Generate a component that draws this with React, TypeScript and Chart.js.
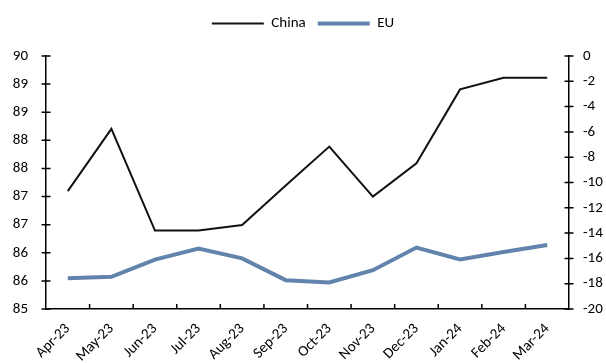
import { useEffect, useRef } from "react";
import { Chart, registerables } from "chart.js";

Chart.register(...registerables);

// Monthly series, Apr-23 to Mar-24
const months = [
  "Apr-23", "May-23", "Jun-23", "Jul-23", "Aug-23", "Sep-23",
  "Oct-23", "Nov-23", "Dec-23", "Jan-24", "Feb-24", "Mar-24",
];

// China, left axis
const china = [87.33, 88.56, 86.55, 86.55, 86.66, 87.44, 88.21, 87.22, 87.88, 89.34, 89.57, 89.57];

// EU, right axis
const eu = [-17.56, -17.45, -16.09, -15.22, -16.0, -17.72, -17.9, -16.93, -15.14, -16.09, -15.49, -14.94];

// Left axis runs 85..90 split into nine equal intervals
const leftMin = 85;
const leftMax = 90;
const leftIntervals = 9;

// Right axis runs -20..0 in steps of 2
const rightMin = -20;
const rightMax = 0;
const rightStep = 2;

const FONT = "Carlito, Lato, 'Liberation Sans', sans-serif";
const FONT_SIZE = 15;
const EU_COLOR = "#6283ac";

// Extra room between the legend and the plot
const legendGap = {
  id: "legendGap",
  beforeInit(chart: any) {
    const legend = chart.legend;
    if (!legend) return;
    const originalFit = legend.fit;
    legend.fit = function fit() {
      originalFit.bind(legend)();
      this.height += 15;
    };
  },
};

// Short tick marks that cross the value axes, and inward marks on the category axis
const axisMarks = {
  id: "axisMarks",
  afterDraw(chart: any) {
    const ctx = chart.ctx;
    const x = chart.scales.x;
    const yL = chart.scales.yL;
    const yR = chart.scales.yR;
    ctx.save();
    ctx.strokeStyle = "#000";
    ctx.lineWidth = 1.5;
    ctx.beginPath();
    for (const t of yL.ticks) {
      const p = yL.getPixelForValue(t.value);
      ctx.moveTo(yL.right - 4.5, p);
      ctx.lineTo(yL.right + 4.5, p);
    }
    for (const t of yR.ticks) {
      const p = yR.getPixelForValue(t.value);
      ctx.moveTo(yR.left - 4.5, p);
      ctx.lineTo(yR.left + 4.5, p);
    }
    for (let i = 1; i < months.length; i++) {
      const px = x.getPixelForValue(i - 0.5);
      ctx.moveTo(px, x.top);
      ctx.lineTo(px, x.top - 5);
    }
    ctx.stroke();
    ctx.restore();
  },
};

export default function App() {
  const canvasRef = useRef<HTMLCanvasElement | null>(null);

  useEffect(() => {
    if (!canvasRef.current) return;
    const chart = new Chart(canvasRef.current, {
      type: "line",
      data: {
        labels: months,
        datasets: [
          {
            label: "China",
            data: china,
            yAxisID: "yL",
            borderColor: "#111",
            backgroundColor: "#111",
            borderWidth: 2,
            pointRadius: 0,
            tension: 0,
          },
          {
            label: "EU",
            data: eu,
            yAxisID: "yR",
            borderColor: EU_COLOR,
            backgroundColor: EU_COLOR,
            borderWidth: 4,
            pointRadius: 0,
            tension: 0,
          },
        ],
      },
      options: {
        animation: false,
        responsive: true,
        maintainAspectRatio: false,
        layout: { padding: { top: 4, left: 0, right: 0, bottom: 0 } },
        plugins: {
          tooltip: { enabled: false },
          legend: {
            position: "top",
            labels: {
              usePointStyle: true,
              pointStyle: "line",
              pointStyleWidth: 52,
              color: "#000",
              padding: 12,
              font: { family: FONT, size: FONT_SIZE },
            },
          },
        },
        scales: {
          x: {
            offset: true,
            grid: { display: true, offset: true, drawOnChartArea: false, drawTicks: false },
            border: { display: true, color: "#000", width: 1.5 },
            ticks: {
              autoSkip: false,
              maxRotation: 45,
              minRotation: 45,
              padding: 11,
              color: "#000",
              font: { family: FONT, size: FONT_SIZE },
            },
            afterFit(scale: any) {
              scale.height = 54;
            },
          },
          yL: {
            position: "left",
            min: leftMin,
            max: leftMax,
            grid: { display: true, drawOnChartArea: false, drawTicks: false },
            border: { display: true, color: "#000", width: 1.5 },
            afterBuildTicks(scale: any) {
              const step = (leftMax - leftMin) / leftIntervals;
              const ticks = [];
              for (let i = 0; i <= leftIntervals; i++) ticks.push({ value: leftMin + i * step });
              scale.ticks = ticks;
            },
            ticks: {
              padding: 18,
              color: "#000",
              font: { family: FONT, size: FONT_SIZE },
              callback: (v: any) => String(Math.round(Number(v))),
            },
            afterFit(scale: any) {
              scale.width = 46;
            },
          },
          yR: {
            position: "right",
            min: rightMin,
            max: rightMax,
            grid: { display: true, drawOnChartArea: false, drawTicks: false },
            border: { display: true, color: "#000", width: 1.5 },
            ticks: {
              stepSize: rightStep,
              padding: 14,
              color: "#000",
              font: { family: FONT, size: FONT_SIZE },
            },
            afterFit(scale: any) {
              scale.width = 37;
            },
          },
        },
      },
      plugins: [legendGap, axisMarks],
    });
    return () => chart.destroy();
  }, []);

  return (
    <div style={{ position: "absolute", left: 0, top: 0, width: 606, height: 363, background: "#fff" }}>
      <canvas ref={canvasRef} />
    </div>
  );
}
